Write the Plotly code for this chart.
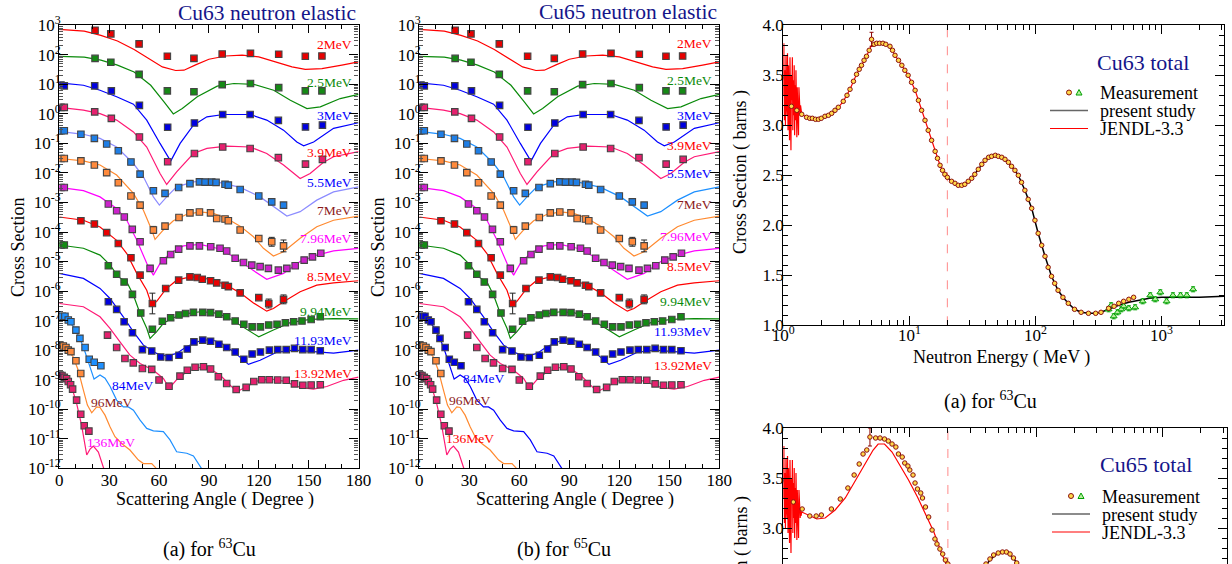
import plotly.graph_objects as go

W, H = 1232, 564
FONT = "Liberation Serif"
NAVY = "#15158a"

# ---------------- angular distributions (log10 of displayed, offset cross section) -------------
energy_labels = ["2MeV", "2.5MeV", "3MeV", "3.9MeV", "5.5MeV", "7MeV", "7.96MeV", "8.5MeV",
                 "9.94MeV", "11.93MeV", "13.92MeV", "84MeV", "96MeV", "136MeV"]

c_deg_2 = [0, 15, 25, 35, 45, 55, 62, 70, 75, 82, 90, 100, 110, 120, 130, 140, 148, 158, 170, 180]
c_log_2 = [2.86, 2.80, 2.66, 2.47, 2.18, 1.82, 1.59, 1.47, 1.48, 1.66, 1.85, 1.96, 1.99, 1.93, 1.76, 1.59, 1.51, 1.53, 1.65, 1.76]
c_deg_25 = [0, 15, 25, 35, 45, 55, 63, 68.6, 74, 83, 95, 105, 117, 129, 139, 149, 157, 169, 180]
c_log_25 = [1.95, 1.92, 1.82, 1.65, 1.42, 0.97, 0.41, 0.0, 0.18, 0.58, 0.94, 1.03, 1.00, 0.80, 0.46, 0.18, 0.24, 0.52, 0.66]
c_deg_3 = [0, 14.5, 24.5, 34.5, 44.6, 52.6, 60.6, 67, 72.7, 80.7, 88.8, 98.8, 114.8, 124.8, 134.9, 142.9, 147, 153, 165, 180]
c_log_3 = [1.05, 0.97, 0.80, 0.58, 0.33, -0.21, -1.0, -1.60, -1.0, -0.38, -0.10, -0.02, -0.02, -0.21, -0.55, -0.95, -1.08, -0.95, -0.49, -0.30]
c_deg_39 = [0, 14.5, 24.5, 34.5, 44.6, 52.6, 60.6, 64.6, 70.6, 80.7, 88.8, 100.8, 114.8, 124.8, 134.9, 140.9, 144.9, 150.9, 159, 165, 180]
c_log_39 = [0.22, 0.13, 0.01, -0.21, -0.61, -1.12, -2.02, -2.39, -1.96, -1.34, -1.17, -1.09, -1.12, -1.34, -1.73, -2.02, -2.19, -2.02, -1.64, -1.45, -1.28]
c_deg_55 = [0, 14.5, 24.5, 34.5, 44.6, 50.6, 56.6, 60.2, 64.6, 70.6, 80.7, 88.8, 96.7, 108.8, 120.8, 128.8, 136.9, 144.9, 154.9, 165, 180]
c_log_55 = [-0.59, -0.69, -0.83, -1.12, -1.68, -2.13, -2.81, -3.09, -2.81, -2.47, -2.30, -2.27, -2.33, -2.49, -2.81, -3.14, -3.46, -3.31, -2.92, -2.64, -2.47]
c_deg_7 = [0, 14.5, 24.5, 34.5, 44.6, 50.6, 55.6, 57.6, 62.6, 68.6, 76.7, 84.7, 92.7, 100.8, 108.8, 116.8, 122.8, 128.8, 134.9, 144.9, 154.9, 165, 180]
c_log_7 = [-1.51, -1.59, -1.73, -2.07, -2.69, -3.26, -3.93, -4.25, -3.93, -3.62, -3.40, -3.32, -3.37, -3.54, -3.80, -4.16, -4.55, -4.81, -4.67, -4.21, -3.82, -3.60, -3.46]
c_deg_796 = [0, 14.5, 24.5, 34.5, 40.6, 46.6, 52.6, 56.6, 60.6, 66.6, 74.7, 84.7, 94.7, 104.8, 114.8, 122.8, 124.8, 134.9, 144.9, 154.9, 165, 180]
c_log_796 = [-2.49, -2.60, -2.81, -3.20, -3.60, -4.27, -5.06, -5.46, -5.06, -4.72, -4.47, -4.42, -4.55, -4.83, -5.23, -5.51, -5.60, -5.40, -5.00, -4.78, -4.64, -4.55]
c_deg_85 = [0, 14.5, 24.5, 34.5, 40.6, 46.6, 52.6, 55.6, 58.6, 64, 70.6, 78.7, 84.7, 92.7, 100.7, 108.8, 116.8, 122.8, 124.8, 128.8, 134.9, 144.9, 154.9, 165, 180]
c_log_85 = [-3.49, -3.60, -3.83, -4.28, -4.73, -5.40, -5.97, -6.48, -6.35, -5.94, -5.63, -5.52, -5.54, -5.63, -5.80, -6.06, -6.40, -6.62, -6.68, -6.59, -6.36, -6.02, -5.80, -5.72, -5.65]
c_deg_994 = [0, 14.5, 24.5, 30.6, 35.5, 40.6, 44.6, 48.6, 52.6, 54.6, 58.6, 62.6, 68.6, 76.7, 84.7, 92.7, 100.8, 108.8, 116.8, 120, 128.8, 138.9, 150.9, 165, 180]
c_log_994 = [-4.44, -4.55, -4.78, -5.12, -5.52, -5.69, -6.14, -6.76, -7.26, -7.60, -7.37, -7.09, -6.90, -6.76, -6.70, -6.73, -6.87, -7.15, -7.43, -7.55, -7.32, -7.07, -6.96, -6.93, -6.94]
c_deg_1193 = [0, 14.5, 24.5, 30.5, 38.5, 44.6, 50.6, 58.6, 64.6, 70.6, 76.7, 84.7, 90.7, 96.7, 104.8, 110.8, 113.8, 120.8, 130.8, 140.9, 154.9, 165, 180]
c_log_1193 = [-5.40, -5.57, -5.91, -6.25, -6.87, -7.38, -7.83, -8.11, -8.20, -8.11, -7.88, -7.68, -7.64, -7.73, -8.05, -8.34, -8.48, -8.34, -8.07, -8.00, -8.05, -8.10, -8.00]
c_deg_1392 = [0, 14.5, 24.5, 30.5, 36.5, 42.5, 48.6, 56.6, 62.6, 66.2, 70.6, 76.7, 84.7, 90.7, 96.7, 102.7, 106.8, 112.8, 118.8, 126.8, 134.9, 144.9, 152.9, 160.9, 171, 180]
c_log_1392 = [-6.42, -6.53, -6.87, -7.26, -7.72, -8.17, -8.45, -8.68, -8.96, -9.29, -9.0, -8.73, -8.58, -8.64, -8.84, -9.18, -9.41, -9.23, -9.05, -8.97, -9.05, -9.26, -9.32, -9.23, -9.02, -8.91]
c_deg_84 = [0, 4.4, 8.4, 12.4, 15.5, 18.5, 20.9, 24.5, 27.5, 30.5, 34.5, 38.5, 41.5, 44.6, 48.6, 52.6, 56.6, 62.6, 66.6, 70.6, 76.7, 80.7, 85.7]
c_log_84 = [-6.87, -6.96, -7.19, -7.60, -8.06, -8.56, -8.98, -8.84, -8.95, -9.22, -9.69, -9.92, -9.92, -10.03, -10.37, -10.65, -10.73, -10.76, -11.04, -11.44, -11.49, -11.58, -12.02]
c_deg_96 = [0, 4.4, 8.4, 11.4, 14.5, 16.9, 19.5, 22.5, 24.5, 27.5, 30.5, 33.5, 37.5, 42.5, 47.6, 50.6, 55.6, 58.6]
c_log_96 = [-7.80, -7.95, -8.23, -8.68, -9.35, -9.86, -10.12, -9.92, -9.94, -10.20, -10.59, -10.93, -11.16, -11.38, -11.72, -11.84, -11.84, -12.02]
c_deg_136 = [0, 4.4, 7.4, 10.4, 13.4, 15.2, 16.5, 18.5, 20.5, 23.5, 25.5, 27]
c_log_136 = [-8.84, -9.0, -9.23, -9.80, -10.54, -11.16, -11.55, -11.35, -11.25, -11.45, -11.78, -12.05]

p_deg_2 = [21.5, 31, 48, 65, 81, 98, 115, 132, 148, 158]
p_log_2 = [2.83, 2.71, 2.37, 1.95, 1.88, 2.03, 2.05, 2.02, 1.95, 1.96]
p_deg_25 = [21.5, 31, 48, 65, 81, 98, 115, 132, 148, 158]
p_log_25 = [1.88, 1.75, 1.34, 0.78, 0.75, 0.99, 1.03, 0.89, 0.78, 0.78]
p_deg_3 = [1, 3, 21.3, 31.3, 48.2, 65.2, 81.3, 98.3, 114.8, 131.8, 148.1, 158.3]
p_log_3 = [0.98, 0.95, 0.95, 0.78, 0.29, -0.45, -0.31, -0.02, -0.02, -0.22, -0.44, -0.38]
p_deg_39 = [1, 3, 21.3, 31.3, 48.2, 65.2, 81.3, 98.3, 114.8, 131.8, 148.1, 158.3]
p_log_39 = [0.22, 0.22, 0.07, -0.15, -0.78, -1.62, -1.34, -1.12, -1.17, -1.48, -1.70, -1.54]
p_deg_55 = [1, 3, 13, 21.1, 28.5, 35.5, 43.1, 48.6, 56.6, 63.6, 71.8, 78.6, 84.3, 87.7, 91.7, 94.3, 99.7, 101.7, 108.8, 120, 127.8, 134.9]
p_log_55 = [-0.57, -0.57, -0.69, -0.83, -1.02, -1.25, -1.63, -2.04, -2.60, -2.69, -2.49, -2.36, -2.30, -2.31, -2.31, -2.32, -2.38, -2.41, -2.56, -2.78, -2.98, -3.09]
p_deg_7 = [1, 3, 13, 21.1, 28.5, 35.5, 43.1, 48.6, 56.6, 63.6, 72, 78.6, 84.3, 91, 94.7, 99.7, 101.7, 108.8, 120, 127.8, 134.9]
p_log_7 = [-1.51, -1.51, -1.59, -1.73, -1.99, -2.33, -2.78, -3.09, -3.93, -3.80, -3.51, -3.35, -3.32, -3.35, -3.54, -3.56, -3.62, -3.93, -4.22, -4.33, -4.47]
p_deg_796 = [1, 3, 29.5, 34.5, 39.1, 43.9, 48.6, 54.6, 62.6, 67, 71.8, 78.6, 84.3, 91.1, 96.7, 100.7, 105.8, 110.8, 115.8, 120.8, 125.8, 131.8, 136.9, 141.9, 147.3, 152.3, 157.3]
p_log_796 = [-2.49, -2.49, -3.05, -3.28, -3.49, -3.91, -4.33, -5.23, -4.97, -4.76, -4.58, -4.47, -4.47, -4.50, -4.55, -4.64, -4.89, -5.03, -5.12, -5.17, -5.23, -5.29, -5.23, -5.14, -4.95, -4.84, -4.72]
p_deg_85 = [13, 21.1, 28.5, 35.5, 43.1, 48.6, 56, 64, 71.8, 78.6, 83, 86, 91, 94.7, 99.7, 101.7, 108.8, 120, 126, 134.9]
p_log_85 = [-3.62, -3.73, -4.02, -4.39, -4.87, -5.46, -6.42, -5.91, -5.63, -5.52, -5.54, -5.60, -5.65, -5.72, -5.80, -5.85, -6.06, -6.22, -6.42, -6.28]
p_deg_994 = [1, 3, 29.5, 34.5, 39, 44, 49, 56, 62, 67, 72, 76, 80.7, 86.3, 91, 96, 100.7, 105.8, 111, 116, 121, 126, 131, 136, 141, 146, 151.5, 157]
p_log_994 = [-4.44, -4.44, -5.14, -5.43, -5.69, -6.11, -6.74, -7.29, -7.02, -6.90, -6.81, -6.76, -6.72, -6.72, -6.73, -6.78, -6.87, -7.01, -7.12, -7.21, -7.21, -7.15, -7.12, -7.07, -7.04, -7.01, -6.96, -6.87]
p_deg_1193 = [29.5, 34.5, 39, 44, 50, 55.6, 61, 66, 72, 77, 81, 86.3, 91, 96, 100.7, 105.8, 111, 116, 121, 126.4, 131.4, 136.5, 141.5, 146.5, 151.5, 157]
p_log_1193 = [-6.36, -6.62, -7.04, -7.41, -7.98, -8.03, -8.23, -8.25, -8.17, -7.96, -7.72, -7.66, -7.70, -7.80, -7.91, -8.06, -8.31, -8.13, -8.06, -8.00, -7.98, -7.98, -7.94, -7.98, -7.98, -8.02]
p_deg_1392 = [29, 34.5, 39.5, 44.5, 50, 55.6, 60, 66, 72.6, 77, 81.7, 86.7, 91, 95.7, 100.7, 106.4, 112.4, 117, 121.8, 126.4, 131.4, 136.5, 141.5, 146.5, 151.5, 157]
p_log_1392 = [-7.49, -7.91, -8.28, -8.43, -8.62, -8.65, -9.01, -9.22, -8.88, -8.68, -8.58, -8.56, -8.64, -8.90, -9.13, -9.33, -9.26, -9.06, -9.00, -9.00, -9.01, -9.02, -9.14, -9.19, -9.18, -9.17]
p_deg_84 = [1.8, 3.4, 5.4, 7, 10, 12.4, 15.5, 18, 21, 25]
p_log_84 = [-6.85, -6.85, -6.98, -7.04, -7.32, -7.60, -7.91, -8.31, -8.41, -8.53]
p_deg_96 = [0.4, 2.4, 4, 5.4, 7, 10, 12.9]
p_log_96 = [-7.83, -7.86, -7.91, -8.0, -8.05, -8.36, -8.79]
p_deg_136 = [0.4, 1.6, 3, 4.4, 5.4, 6.8, 8, 10.4, 12.9, 15, 17.8]
p_log_136 = [-8.84, -8.86, -8.92, -8.97, -9.06, -9.17, -9.32, -9.69, -10.17, -10.56, -10.74]

curve_deg = [c_deg_2, c_deg_25, c_deg_3, c_deg_39, c_deg_55, c_deg_7, c_deg_796, c_deg_85,
             c_deg_994, c_deg_1193, c_deg_1392, c_deg_84, c_deg_96, c_deg_136]
curve_log = [c_log_2, c_log_25, c_log_3, c_log_39, c_log_55, c_log_7, c_log_796, c_log_85,
             c_log_994, c_log_1193, c_log_1392, c_log_84, c_log_96, c_log_136]
point_deg = [p_deg_2, p_deg_25, p_deg_3, p_deg_39, p_deg_55, p_deg_7, p_deg_796, p_deg_85,
             p_deg_994, p_deg_1193, p_deg_1392, p_deg_84, p_deg_96, p_deg_136]
point_log = [p_log_2, p_log_25, p_log_3, p_log_39, p_log_55, p_log_7, p_log_796, p_log_85,
             p_log_994, p_log_1193, p_log_1392, p_log_84, p_log_96, p_log_136]

# error bars: (angle, log10 value, log10 half width)
err_deg = [56.6, 120, 127.8, 134.9, 56, 126, 134.9, 66, 66, 106.4]
err_log = [-3.93, -4.22, -4.33, -4.47, -6.42, -6.42, -6.28, -8.25, -9.22, -9.33]
err_half = [0.12, 0.10, 0.15, 0.20, 0.35, 0.15, 0.15, 0.10, 0.10, 0.10]

# label positions (deg, log10) for each panel
lab63_deg = [177] * 11 + [44.3, 31.5, 31.2]
lab63_log = [2.36, 1.07, -0.05, -1.30, -2.31, -3.26, -4.22, -5.50, -6.70, -7.68, -8.79, -9.18, -9.78, -11.13]
lab65_deg = [177] * 11 + [38.4, 30.4, 30.4]
lab65_log = [2.38, 1.14, -0.05, -1.06, -2.02, -3.06, -4.16, -5.18, -6.36, -7.36, -8.51, -8.96, -9.69, -10.99]

RED, GRN, BLU, PNK, MAG, ORG, BRN, DBL = "#ff0000", "#0a8a0a", "#0000ff", "#ff1a75", "#ff00ff", "#ff8a30", "#8b1a1a", "#1e90ff"
curve_col63 = [RED, GRN, BLU, PNK, "#8c8cff", ORG, MAG, RED, GRN, BLU, PNK, DBL, ORG, PNK]
curve_col65 = [RED, GRN, BLU, PNK, DBL, ORG, MAG, RED, GRN, BLU, PNK, BLU, ORG, PNK]
pt_col63 = ["#e80000", "#158a15", "#0000e0", "#e6206e", "#1e7ee6", "#ff8a3c", "#cc22cc", "#e80000",
            "#158a15", "#0000e0", "#e6206e", DBL, "#ff8a3c", "#e6206e"]
pt_col65 = pt_col63[:11] + ["#0000e0", "#ff8a3c", "#e6206e"]
lab_col63 = [RED, GRN, BLU, RED, BLU, BRN, MAG, RED, GRN, BLU, RED, BLU, BRN, MAG]
lab_col65 = [RED, GRN, BLU, RED, BLU, BRN, MAG, RED, GRN, BLU, RED, BLU, BRN, RED]

# ---------------- total cross sections ----------------
jendl_res_E = [1.00, 1.01, 1.02, 1.03, 1.04, 1.05, 1.06, 1.07, 1.08, 1.09, 1.10, 1.11, 1.12, 1.13,
               1.14, 1.15, 1.16, 1.17, 1.18, 1.19, 1.20, 1.21, 1.22, 1.23, 1.24, 1.25, 1.26, 1.27,
               1.28, 1.29, 1.30, 1.31, 1.32, 1.33, 1.34, 1.35, 1.36, 1.37, 1.38]
jendl_res_xs = [3.30, 3.82, 3.05, 3.55, 3.00, 3.70, 3.20, 3.10, 3.72, 2.95, 3.60, 3.35, 2.85, 3.68,
                3.15, 2.75, 3.50, 3.25, 3.68, 2.95, 3.45, 3.10, 3.60, 2.90, 3.40, 3.05, 3.55, 3.20,
                2.88, 3.38, 3.12, 3.30, 2.90, 3.38, 3.15, 3.25, 3.10, 3.20, 3.12]
jendl63_E = [1.40, 1.53, 1.70, 1.90, 2.14, 2.42, 2.73, 2.99, 3.38, 3.81, 4.17, 4.57, 5.0, 5.5, 6.2,
             7.0, 7.7, 8.7, 9.8, 11.1, 12.5, 14.1, 16.0, 17.5, 19.1, 20.0]
jendl63_xs = [3.11, 3.08, 3.07, 3.06, 3.09, 3.12, 3.18, 3.24, 3.36, 3.51, 3.60, 3.69, 3.80, 3.82, 3.82,
              3.79, 3.70, 3.60, 3.50, 3.35, 3.15, 2.95, 2.74, 2.60, 2.51, 2.48]
meas63_E = [1.16, 1.28, 1.40, 1.53, 1.62, 1.70, 1.80, 1.90, 2.00, 2.14, 2.28, 2.42, 2.57, 2.73, 2.99,
            3.20, 3.38, 3.60, 3.81, 4.00, 4.17, 4.37, 4.57, 4.80, 5.01, 5.25, 5.50, 5.80, 6.17, 6.50,
            7.01, 7.35, 7.69, 8.20, 8.71, 9.20, 9.77, 10.4, 11.1, 11.8, 12.5, 13.3, 14.1, 15.0, 16.0,
            16.7, 17.5, 18.3, 19.1, 20.0, 21.6, 23.0, 24.4, 26.0, 27.5, 29.3, 31.2, 33.0, 35.2, 37.5,
            39.8, 42.5, 44.9, 48.0, 50.7, 54.0, 57.3, 61.0, 64.6, 68.7, 73.1, 77.5, 82.4, 87.5, 93.3,
            99.0, 105, 112, 119, 126, 134, 142, 151, 165, 182, 204, 230, 263, 300, 331, 380, 420, 457,
            500, 550, 600]
meas63_xs = [3.19, 3.15, 3.11, 3.08, 3.07, 3.07, 3.06, 3.06, 3.07, 3.09, 3.10, 3.12, 3.15, 3.18, 3.24,
             3.30, 3.36, 3.44, 3.51, 3.56, 3.60, 3.65, 3.69, 3.75, 3.86, 3.81, 3.82, 3.82, 3.82, 3.81,
             3.79, 3.75, 3.70, 3.65, 3.60, 3.55, 3.50, 3.43, 3.35, 3.25, 3.15, 3.05, 2.95, 2.85, 2.74,
             2.67, 2.60, 2.55, 2.51, 2.48, 2.44, 2.42, 2.40, 2.40, 2.41, 2.44, 2.47, 2.51, 2.56, 2.61,
             2.65, 2.68, 2.69, 2.70, 2.69, 2.68, 2.66, 2.63, 2.59, 2.55, 2.50, 2.43, 2.35, 2.26, 2.17,
             2.05, 1.92, 1.80, 1.69, 1.58, 1.49, 1.42, 1.35, 1.28, 1.22, 1.16, 1.13, 1.12, 1.12, 1.13,
             1.17, 1.19, 1.22, 1.24, 1.26, 1.28]
present63_E = [20, 21.6, 24.4, 27.5, 31.2, 35.2, 39.8, 44.9, 50.7, 57.3, 64.6, 73.1, 82.4, 93.3, 105,
               119, 134, 151, 165, 182, 204, 230, 263, 300, 331, 380, 457, 550, 616, 800, 1000, 1400,
               2000, 3126]
present63_xs = [2.48, 2.44, 2.40, 2.41, 2.47, 2.56, 2.65, 2.69, 2.69, 2.66, 2.59, 2.50, 2.35, 2.17, 1.92,
                1.69, 1.49, 1.35, 1.28, 1.22, 1.16, 1.13, 1.12, 1.12, 1.13, 1.16, 1.20, 1.23, 1.24, 1.27,
                1.28, 1.28, 1.28, 1.29]
high63_E = [380, 398, 417, 447, 479, 501, 550, 617, 708, 813, 891, 977, 1096, 1230, 1413, 1585, 1778]
high63_xs = [1.16, 1.20, 1.09, 1.13, 1.16, 1.19, 1.17, 1.18, 1.24, 1.30, 1.26, 1.33, 1.24, 1.30, 1.30, 1.30, 1.36]

jendl65_E = [1.40, 1.84, 2.14, 2.57, 3.09, 3.72, 4.47, 5.13, 5.62, 6.31, 7.24, 8.32, 9.77, 11.5, 13.2,
             15.5, 17.8, 20.0]
jendl65_xs = [3.16, 3.09, 3.10, 3.18, 3.30, 3.48, 3.66, 3.78, 3.84, 3.84, 3.76, 3.63, 3.48, 3.31, 3.15,
              2.96, 2.75, 2.60]
meas65_E = [1.20, 1.41, 1.62, 1.82, 2.00, 2.40, 2.82, 3.24, 3.63, 3.98, 4.27, 4.57, 4.84, 5.37, 5.82,
            6.31, 6.76, 7.24, 7.76, 8.13, 8.71, 9.12, 9.66, 10.0, 10.6, 11.0, 11.5, 12.2, 12.6, 13.3,
            14.1, 15.0, 15.8, 16.4, 17.3, 18.2, 19.1, 20.0, 21.5, 23, 25, 28, 32, 36, 40, 43, 46, 50,
            54, 58, 62, 66, 70, 75, 80]
meas65_xs = [3.26, 3.19, 3.12, 3.12, 3.13, 3.19, 3.29, 3.40, 3.53, 3.64, 3.74, 3.78, 3.91, 3.90, 3.90,
             3.89, 3.87, 3.84, 3.81, 3.74, 3.71, 3.65, 3.62, 3.58, 3.53, 3.45, 3.39, 3.35, 3.30, 3.21,
             3.11, 2.98, 2.89, 2.84, 2.79, 2.74, 2.68, 2.64, 2.58, 2.53, 2.49, 2.47, 2.51, 2.58, 2.64,
             2.69, 2.73, 2.75, 2.76, 2.76, 2.74, 2.70, 2.65, 2.57, 2.48]
present65_E = [20, 24, 28, 33, 38, 43, 50, 57, 65, 73, 82, 93, 105, 119, 134, 151, 182, 230, 300, 400,
               600, 1000, 3126]
present65_xs = [2.60, 2.49, 2.46, 2.50, 2.59, 2.68, 2.75, 2.76, 2.71, 2.62, 2.48, 2.28, 2.02, 1.78, 1.57,
                1.42, 1.25, 1.15, 1.13, 1.17, 1.24, 1.28, 1.29]
cutoff_energy = 20

# ---------------- figure ----------------
fig = go.Figure()


def px(x):
    return x / W


def py(y):
    return 1 - y / H


def add_elastic(xa, ya, ccol, pcol):
    for k in range(len(energy_labels)):
        fig.add_trace(go.Scatter(x=curve_deg[k], y=[10 ** v for v in curve_log[k]], mode="lines",
                                 line=dict(color=ccol[k], width=1.2), xaxis=xa, yaxis=ya,
                                 hoverinfo="skip"))
    fig.add_trace(go.Scatter(
        x=err_deg, y=[10 ** v for v in err_log], mode="markers",
        marker=dict(size=1, color="rgba(0,0,0,0)"),
        error_y=dict(type="data", symmetric=False,
                     array=[10 ** v * (10 ** h - 1) for v, h in zip(err_log, err_half)],
                     arrayminus=[10 ** v * (1 - 10 ** -h) for v, h in zip(err_log, err_half)],
                     color="#222", thickness=1, width=3),
        xaxis=xa, yaxis=ya, hoverinfo="skip"))
    for k in range(len(energy_labels)):
        fig.add_trace(go.Scatter(x=point_deg[k], y=[10 ** v for v in point_log[k]], mode="markers",
                                 marker=dict(symbol="square", size=6.5, color=pcol[k],
                                             line=dict(color="#444444", width=1.1)),
                                 xaxis=xa, yaxis=ya, hoverinfo="skip"))


add_elastic("x", "y", curve_col63, pt_col63)
add_elastic("x2", "y2", curve_col65, pt_col65)


def add_total(xa, ya, jE, jx, mE, mx, pE, px_, hE, hx, err_pt):
    fig.add_trace(go.Scatter(x=[cutoff_energy, cutoff_energy], y=[1, 4], mode="lines",
                             line=dict(color="#ff8a8a", width=1, dash="dash"), xaxis=xa, yaxis=ya))
    fig.add_trace(go.Scatter(x=jendl_res_E + jE, y=jendl_res_xs + jx, mode="lines",
                             line=dict(color="#ff0000", width=1.2), xaxis=xa, yaxis=ya))
    fig.add_trace(go.Scatter(x=pE, y=px_, mode="lines", line=dict(color="black", width=1.5),
                             xaxis=xa, yaxis=ya))
    if hE:
        fig.add_trace(go.Scatter(x=hE, y=hx, mode="markers",
                                 marker=dict(symbol="triangle-up", size=6, color="#b8f0a0",
                                             line=dict(color="#00a000", width=1)),
                                 error_y=dict(type="constant", value=0.025, color="#00a000",
                                              thickness=1, width=2),
                                 xaxis=xa, yaxis=ya))
    fig.add_trace(go.Scatter(x=[err_pt[0]], y=[err_pt[1]], mode="markers",
                             marker=dict(size=1, color="rgba(0,0,0,0)"),
                             error_y=dict(type="constant", value=err_pt[2], color="#8b0000",
                                          thickness=1, width=2), xaxis=xa, yaxis=ya))
    fig.add_trace(go.Scatter(x=mE, y=mx, mode="markers",
                             marker=dict(symbol="circle", size=4.5, color="#ffd84a",
                                         line=dict(color="#8b1010", width=1)),
                             xaxis=xa, yaxis=ya))


add_total("x3", "y3", jendl63_E, jendl63_xs, meas63_E, meas63_xs, present63_E, present63_xs,
          high63_E, high63_xs, (5.01, 3.86, 0.07))
add_total("x4", "y4", jendl65_E, jendl65_xs, meas65_E, meas65_xs, present65_E, present65_xs,
          [], [], (4.84, 3.91, 0.09))

tickfont = dict(family=FONT, size=17, color="black")
axis_common = dict(showline=True, linecolor="black", linewidth=1.3, mirror="allticks",
                   ticks="inside", tickcolor="black", showgrid=False, zeroline=False,
                   tickfont=tickfont)

log_minor_ang = [m * 10 ** e for e in range(-12, 3) for m in range(2, 10)]
log_minor_E = [m * 10 ** e for e in range(0, 4) for m in range(2, 10)]

ang_x = dict(range=[0, 180], tickvals=[0, 30, 60, 90, 120, 150, 180], ticklen=8,
             ticklabelstandoff=-4,
             minor=dict(ticks="inside", dtick=10, tick0=0, ticklen=4, tickcolor="black"),
             **axis_common)
ang_y = dict(type="log", range=[-12, 3], tickvals=[10 ** e for e in range(-12, 4)],
             ticktext=["10<sup>%d</sup>" % e for e in range(-12, 4)], ticklen=9,
             ticklabelstandoff=-6,
             minor=dict(ticks="inside", tickvals=log_minor_ang, ticklen=4, tickcolor="#555"),
             **axis_common)

dom_y_el = [py(468.3), py(25.3)]
fig.update_layout(
    width=W, height=H, margin=dict(l=0, r=0, t=0, b=0, autoexpand=False),
    paper_bgcolor="white", plot_bgcolor="white", showlegend=False,
    font=dict(family=FONT, color="black"),
    xaxis=dict(domain=[px(59.3), px(358.5)], anchor="y", **ang_x),
    yaxis=dict(domain=dom_y_el, anchor="x", **ang_y),
    xaxis2=dict(domain=[px(419.3), px(719.3)], anchor="y2", **ang_x),
    yaxis2=dict(domain=dom_y_el, anchor="x2", **ang_y),
    xaxis3=dict(domain=[px(783.3), px(1224)], anchor="y3", type="log", range=[0, 3.495],
                tickvals=[1, 10, 100, 1000],
                ticktext=["10<sup>0</sup>", "10<sup>1</sup>", "10<sup>2</sup>", "10<sup>3</sup>"],
                ticklen=9, ticklabelstandoff=-6,
                minor=dict(ticks="inside", tickvals=log_minor_E, ticklen=5, tickcolor="black"),
                **axis_common),
    yaxis3=dict(domain=[py(325.3), py(25.3)], anchor="x3", range=[1, 4], dtick=0.5, tick0=0,
                tickformat=".1f", ticklen=9, ticklabelstandoff=-5,
                minor=dict(ticks="inside", dtick=0.1, tick0=0, ticklen=5, tickcolor="black"),
                **axis_common),
    xaxis4=dict(domain=[px(783.3), px(1226.7)], anchor="y4", type="log", range=[0, 3.505],
                side="top", showticklabels=False, ticklen=9,
                tickvals=[1, 10, 100, 1000],
                minor=dict(ticks="inside", tickvals=log_minor_E, ticklen=5, tickcolor="black"),
                showline=True, linecolor="black", linewidth=1.3, mirror=False, ticks="inside",
                tickcolor="black", showgrid=False, zeroline=False),
    yaxis4=dict(domain=[0, py(428)], anchor="x4", range=[2.64, 4.0], dtick=0.5, tick0=0,
                tickformat=".1f", ticklen=9, ticklabelstandoff=-5,
                minor=dict(ticks="inside", dtick=0.1, tick0=0, ticklen=5, tickcolor="black"),
                **axis_common),
)

ann = []


def text(x, y, s, size, color="black", xanchor="center", angle=0, xref="paper", yref="paper"):
    ann.append(dict(x=x, y=y, xref=xref, yref=yref, text=s, showarrow=False, xanchor=xanchor,
                    yanchor="middle", textangle=angle,
                    font=dict(family=FONT, size=size, color=color)))


for k, lab in enumerate(energy_labels):
    xa = "right" if k < 11 else "center"
    text(lab63_deg[k], lab63_log[k], lab, 13.5, lab_col63[k], xa, xref="x", yref="y")
    text(lab65_deg[k], lab65_log[k], lab, 13.5, lab_col65[k], xa, xref="x2", yref="y2")

text(px(358), py(13), "Cu63 neutron elastic", 21.5, NAVY, "right")
text(px(719), py(12), "Cu65 neutron elastic", 21.5, NAVY, "right")
text(px(18), py(247), "Cross Section", 18, angle=-90)
text(px(378), py(247), "Cross Section", 18, angle=-90)
text(px(215), py(500), "Scattering Angle ( Degree )", 18)
text(px(575), py(500), "Scattering Angle ( Degree )", 18)
text(px(210), py(548), "(a) for <sup>63</sup>Cu", 20)
text(px(564), py(548), "(b) for <sup>65</sup>Cu", 20)
text(px(990), py(400), "(a) for <sup>63</sup>Cu", 20)
text(px(1001), py(357), "Neutron Energy ( MeV )", 18)
text(px(740), py(172), "Cross Section ( barns )", 18, angle=-90)
text(px(741), py(578), "Cross Section ( barns )", 18, angle=-90)
text(px(1143), py(63), "Cu63 total", 22, NAVY)
text(px(1146), py(464), "Cu65 total", 22, NAVY)

shapes = []
for (top, lx) in [(93, 1098), (496.5, 1100)]:
    text(px(lx), py(top), "Measurement", 18, xanchor="left")
    text(px(lx), py(top + 18), "present study", 18, xanchor="left")
    text(px(lx), py(top + 36), "JENDL-3.3", 18, xanchor="left")
    shapes.append(dict(type="circle", xref="paper", yref="paper", xsizemode="pixel", ysizemode="pixel",
                       xanchor=px(lx - 29), yanchor=py(top - 0.5), x0=-2.5, x1=2.5, y0=-2.5, y1=2.5,
                       fillcolor="#ffd84a", line=dict(color="#8b1010", width=1)))
    shapes.append(dict(type="path", xref="paper", yref="paper", xsizemode="pixel", ysizemode="pixel",
                       xanchor=px(lx - 19), yanchor=py(top - 0.5), path="M -3,-2.5 L 3,-2.5 L 0,3 Z",
                       fillcolor="#b8f0a0", line=dict(color="#00a000", width=1)))
    shapes.append(dict(type="line", xref="paper", yref="paper", x0=px(lx - 48), x1=px(lx - 10),
                       y0=py(top + 17.5), y1=py(top + 17.5), line=dict(color="#666666", width=1.5)))
    shapes.append(dict(type="line", xref="paper", yref="paper", x0=px(lx - 48), x1=px(lx - 10),
                       y0=py(top + 35.5), y1=py(top + 35.5), line=dict(color="#ff0000", width=1.2)))

fig.update_layout(annotations=ann, shapes=shapes)
fig.write_html("out.html", config={"displayModeBar": False},
               post_script="document.body.style.margin='0';document.body.style.overflow='hidden';")
